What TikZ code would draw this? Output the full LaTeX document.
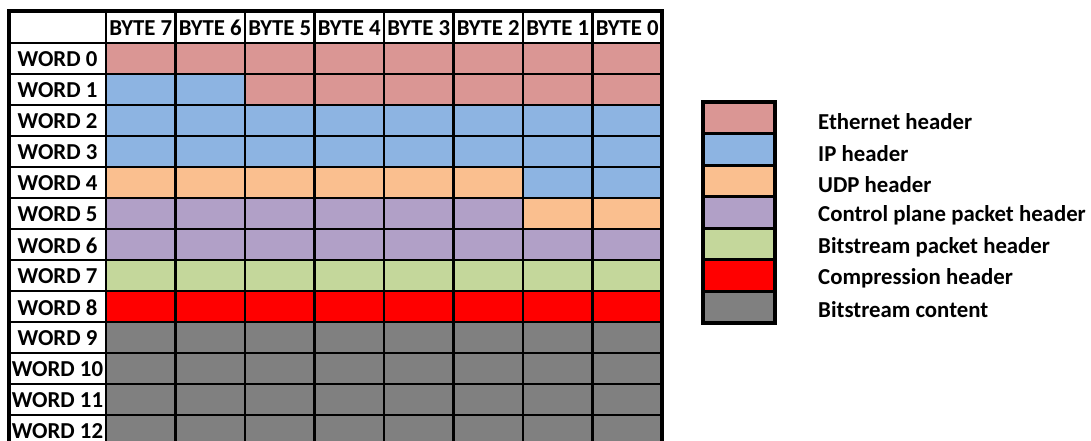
\documentclass[tikz,border=0pt]{standalone}
\usepackage{fontspec}
\setmainfont{Carlito}
\definecolor{eth}{HTML}{DA9694}
\definecolor{ip}{HTML}{8DB4E2}
\definecolor{udp}{HTML}{FABF8F}
\definecolor{ctl}{HTML}{B1A0C7}
\definecolor{bsp}{HTML}{C4D79B}
\definecolor{cmp}{HTML}{FF0000}
\definecolor{bsc}{HTML}{808080}
\newcommand\pktband[5]{\fill[#1] ({106+69.5*#2},{43+31*#4}) rectangle ({106+69.5*#3},{43+31*#5});}
\tikzset{
  lbl/.style={font=\fontsize{22.8}{25}\selectfont\bfseries, inner sep=0pt},
  gridline/.style={line width=2.6pt, line cap=rect},
  outerline/.style={line width=3.4pt, line cap=rect},
  legcell/.style={draw, line width=3.2pt, minimum width=72pt, minimum height=31.57pt, inner sep=0pt, outer sep=0pt}
}
\begin{document}
\begin{tikzpicture}[x=1pt,y=-1pt]
\useasboundingbox (0,0) rectangle (1091,441);
\begin{scope}
\clip (0,0) rectangle (1091,441);
% fills
\pktband{eth}{0}{8}{0}{1}
\pktband{ip}{0}{2}{1}{2}
\pktband{eth}{2}{8}{1}{2}
\pktband{ip}{0}{8}{2}{4}
\pktband{udp}{0}{6}{4}{5}
\pktband{ip}{6}{8}{4}{5}
\pktband{ctl}{0}{6}{5}{6}
\pktband{udp}{6}{8}{5}{6}
\pktband{ctl}{0}{8}{6}{7}
\pktband{bsp}{0}{8}{7}{8}
\pktband{cmp}{0}{8}{8}{9}
\pktband{bsc}{0}{8}{9}{14}
% grid
\foreach \r in {0,...,12}
  \draw[gridline] (9,{43+31*\r}) -- (662,{43+31*\r});
\foreach \j in {1,...,7}
  \draw[gridline] ({106+69.5*\j},11) -- ({106+69.5*\j},450);
\draw[gridline] (106,11) -- (106,450);
\draw[outerline] (9,450) -- (9,11) -- (662,11) -- (662,450);
\end{scope}
% header labels
\foreach \j/\b in {0/7,1/6,2/5,3/4,4/3,5/2,6/1,7/0}
  \node[lbl] (hb\b) at ({106+69.5*\j+34.75},28) {BYTE \b};
\foreach \r in {0,...,12}
  \node[lbl] (w\r) at (57.5,{43+31*\r+16.5}) {WORD \r};
% legend
\foreach \c/\t [count=\i from 0] in {eth/Ethernet header, ip/IP header, udp/UDP header, ctl/Control plane packet header, bsp/Bitstream packet header, cmp/Compression header, bsc/Bitstream content}{
  \node[legcell, fill=\c] (lc\i) at (739,{102+31.57*\i+15.785}) {};
  \node[lbl, anchor=west] (lt\i) at (818,{122+31.2*\i}) {\t};
}
\draw[line width=3.6pt] (703,102) rectangle (775,323);
\end{tikzpicture}
\end{document}
